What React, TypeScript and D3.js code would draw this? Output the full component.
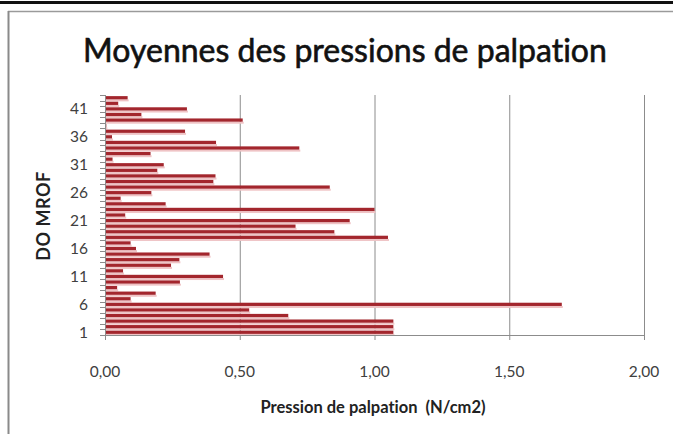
import React, { useEffect, useRef } from 'react';
import * as d3 from 'd3';

// DO MROF 1..43, mean palpation pressure (N/cm2)
const subjects: number[] = d3.range(1, 44);
const pressures: number[] = [
  1.07, 1.07, 1.07, 0.68, 0.535, 1.695, 0.095, 0.188, 0.045, 0.278,
  0.438, 0.067, 0.245, 0.276, 0.388, 0.115, 0.095, 1.05, 0.851, 0.707,
  0.908, 0.075, 1.0, 0.225, 0.058, 0.172, 0.834, 0.402, 0.41, 0.194,
  0.218, 0.028, 0.169, 0.721, 0.412, 0.026, 0.297, 0.005, 0.511, 0.135,
  0.304, 0.049, 0.084,
];
const xTicks: number[] = [0, 0.5, 1, 1.5, 2];
const yTickLabels: number[] = [1, 6, 11, 16, 21, 26, 31, 36, 41];

const title = 'Moyennes des pressions de palpation';
const xTitle = 'Pression de palpation  (N/cm2)';
const yTitle = 'DO MROF';

export default function App() {
  const ref = useRef<SVGSVGElement>(null);

  useEffect(() => {
    const width = 673;
    const height = 434;
    const left = 105;
    const right = 644;
    const top = 95;
    const bottom = 335;
    const font = 'Lato, "Open Sans", sans-serif';

    const svg = d3.select(ref.current);
    svg.selectAll('*').remove();
    svg.style('font-variant-ligatures', 'none');

    svg.append('rect').attr('width', width).attr('height', height).attr('fill', '#fff');

    // outer frame
    svg.append('rect').attr('x', 0).attr('y', 1).attr('width', width).attr('height', 3).attr('fill', '#111');
    svg.append('line').attr('x1', 8).attr('x2', width).attr('y1', 11.5).attr('y2', 11.5)
      .attr('stroke', '#9a9a9a').attr('stroke-width', 1.5);
    svg.append('line').attr('x1', 8.5).attr('x2', 8.5).attr('y1', 11).attr('y2', height)
      .attr('stroke', '#8a8a8a').attr('stroke-width', 2);

    const x = d3.scaleLinear().domain([0, 2]).range([left, right]);
    const y = d3.scaleBand<number>().domain(subjects).range([bottom, top]).paddingInner(0.42).paddingOuter(0.2);

    // gridlines
    svg.append('g').selectAll('line').data(xTicks.slice(1)).enter().append('line')
      .attr('x1', d => x(d) + 0.5).attr('x2', d => x(d) + 0.5)
      .attr('y1', top).attr('y2', bottom + 5)
      .attr('stroke', '#8c8c8c').attr('stroke-width', 1);

    // bars with soft shadow
    const data = subjects.map((s, i) => ({ s, v: pressures[i] }));
    svg.append('g').selectAll('rect').data(data).enter().append('rect')
      .attr('x', left + 1).attr('y', d => (y(d.s) as number) + y.bandwidth())
      .attr('width', d => Math.max(0, x(d.v) - left))
      .attr('height', 2)
      .attr('fill', '#efc3c5');
    svg.append('g').selectAll('rect').data(data).enter().append('rect')
      .attr('x', left).attr('y', d => y(d.s) as number)
      .attr('width', d => x(d.v) - left)
      .attr('height', y.bandwidth())
      .attr('fill', '#a3262d');

    // y axis line and ticks between categories
    svg.append('line').attr('x1', left + 0.5).attr('x2', left + 0.5).attr('y1', top).attr('y2', bottom + 5)
      .attr('stroke', '#8c8c8c');
    const step = (bottom - top) / subjects.length;
    svg.append('g').selectAll('line').data(d3.range(subjects.length + 1)).enter().append('line')
      .attr('x1', left - 5).attr('x2', left)
      .attr('y1', i => Math.round(bottom - i * step) + 0.5).attr('y2', i => Math.round(bottom - i * step) + 0.5)
      .attr('stroke', '#8c8c8c');

    // x axis line
    svg.append('line').attr('x1', left).attr('x2', right + 1).attr('y1', bottom + 0.5).attr('y2', bottom + 0.5)
      .attr('stroke', '#8c8c8c');

    // tick labels
    const fmt = (d: number) => d3.format('.2f')(d).replace('.', ',');
    svg.append('g').selectAll('text').data(xTicks).enter().append('text')
      .attr('x', d => x(d)).attr('y', 377)
      .attr('text-anchor', 'middle')
      .style('font-family', font).style('font-size', '15.5px').attr('fill', '#404040')
      .text(fmt);
    svg.append('g').selectAll('text').data(yTickLabels).enter().append('text')
      .attr('x', 88).attr('y', d => (y(d) as number) + y.bandwidth() / 2 + 5.5)
      .attr('text-anchor', 'end')
      .style('font-family', font).style('font-size', '15.5px').attr('fill', '#404040')
      .text(d => String(d));

    // titles
    svg.append('text').attr('x', 345).attr('y', 62).attr('text-anchor', 'middle')
      .style('font-family', font).style('font-size', '32px').attr('fill', '#111')
      .attr('stroke', '#111').attr('stroke-width', 0.6)
      .text(title);
    svg.append('text').attr('x', 373).attr('y', 413).attr('text-anchor', 'middle')
      .style('font-family', font).style('font-size', '16.5px').style('font-weight', 'bold').attr('fill', '#222')
      .style('white-space', 'pre')
      .text(xTitle);
    svg.append('text').attr('transform', 'translate(50,216) rotate(-90)').attr('text-anchor', 'middle')
      .style('font-family', font).style('font-size', '18px').style('font-weight', 'bold').attr('fill', '#222')
      .style('letter-spacing', '0.5px')
      .text(yTitle);
  }, []);

  return (
    <svg ref={ref} width={673} height={434}
      style={{ position: 'absolute', left: 0, top: 0, display: 'block' }} />
  );
}
